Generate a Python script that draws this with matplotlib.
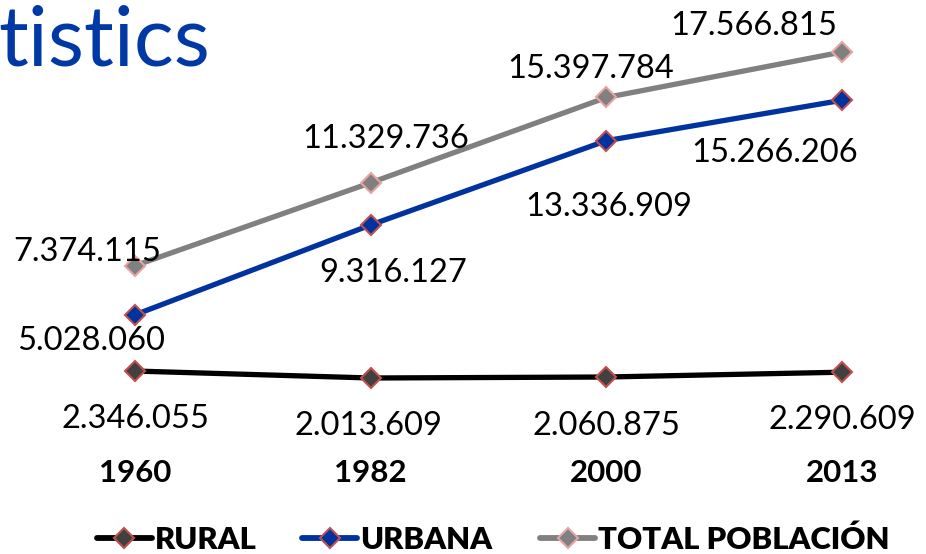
import matplotlib
matplotlib.use("Agg")
import matplotlib.pyplot as plt
from matplotlib.lines import Line2D

years = ["1960", "1982", "2000", "2013"]
rural = [2346055, 2013609, 2060875, 2290609]
urbana = [5028060, 9316127, 13336909, 15266206]
total = [7374115, 11329736, 15397784, 17566815]
series_names = ["RURAL", "URBANA", "TOTAL POBLACIÓN"]

def fmt(v):
    return f"{v:,}".replace(",", ".")

plt.rcParams['font.family'] = ['Lato', 'DejaVu Sans']

W, H = 926, 554
fig = plt.figure(figsize=(W / 100, H / 100), dpi=100)
ax = fig.add_axes([135 / W, (H - 420.2) / H, (842 - 135) / W, 420.2 / H])
ax.set_xlim(0, 3)
ax.set_ylim(0, 20.05e6)
ax.axis('off')

x = list(range(len(years)))
edge_red = '#C0504D'
styles = [
    dict(color='black', mfc='#404040', mec=edge_red),
    dict(color='#0033A0', mfc='#0033A0', mec=edge_red),
    dict(color='#808080', mfc='#808080', mec='#E6A5A5'),
]
for vals, st in zip((rural, urbana, total), styles):
    ax.plot(x, vals, lw=3.8, marker='D', ms=10, mew=1.5, clip_on=False,
            zorder=3, **st)

# label offsets (pixels) for baseline position relative to marker
off_r = [(0, -57), (-2, -57), (0, -58), (0, -57)]
off_u = [(-44, -35), (22, -57), (2, -75), (-67, -62)]
off_t = [(-48, 5), (15, 35), (-16, 19), (-88, 17)]

for vals, offs in ((rural, off_r), (urbana, off_u), (total, off_t)):
    for i, (v, (dx, dy)) in enumerate(zip(vals, offs)):
        ax.annotate(fmt(v), xy=(i, v), xytext=(dx, dy), textcoords='offset pixels',
                    ha='center', va='baseline', fontsize=23.5, color='black',
                    annotation_clip=False, zorder=4)

# category labels
for i, y in enumerate(years):
    ax.annotate(y, xy=(i, 0), xytext=(0, -482 + 420.2), textcoords='offset pixels',
                ha='center', va='baseline', fontsize=22.5, fontweight='bold',
                color='black', annotation_clip=False)

# partial title at top-left
fig.text(-2 / W, 1 - 65 / H, "tistics", fontsize=60, color='#0039A6',
         ha='left', va='baseline')

# legend drawn manually (handle line + diamond + bold label)
leg_x = [97, 302, 540]
text_x = [155, 360, 598]
y_leg = 538
for lx, tx, name, st in zip(leg_x, text_x, series_names, styles):
    fig.add_artist(Line2D([lx / W, (lx + 55) / W], [(H - y_leg) / H] * 2,
                          color=st['color'], lw=4.2, solid_capstyle='round',
                          transform=fig.transFigure))
    fig.add_artist(Line2D([(lx + 27.5) / W], [(H - y_leg) / H], lw=0,
                          marker='D', ms=10, mew=1.5, mfc=st['mfc'],
                          mec=st['mec'], transform=fig.transFigure))
    fig.text(tx / W, (H - 549) / H, name, fontsize=22.3, fontweight='heavy',
             color='black', ha='left', va='baseline')

fig.savefig("out.png", dpi=100)
